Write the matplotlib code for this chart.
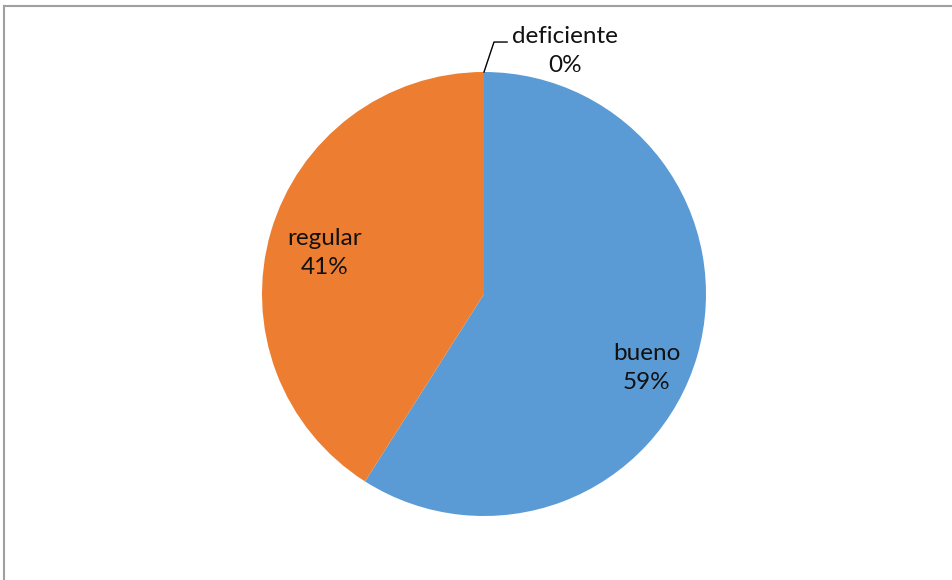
import matplotlib
matplotlib.use('Agg')
import matplotlib.pyplot as plt
from matplotlib.lines import Line2D

categories = ['bueno', 'regular', 'deficiente']
values = [59, 41, 0]
colors = ['#5B9BD5', '#ED7D31', '#A5A5A5']

plt.rcParams['font.family'] = ['Lato', 'DejaVu Sans']

fig = plt.figure(figsize=(9.53, 5.80), dpi=100)
W, H = 953., 580.
cx, cy, r = 484., 294., 222.
ax = fig.add_axes([(cx - r) / W, (H - cy - r) / H, 2 * r / W, 2 * r / H])

wedges, _ = ax.pie(values, colors=colors, startangle=90, counterclock=False,
                   radius=1, wedgeprops=dict(linewidth=0))
ax.set_xlim(-1, 1)
ax.set_ylim(-1, 1)
ax.set_aspect('equal')
ax.axis('off')

# labels
pcts = ['%d%%' % round(v * 100. / sum(values)) for v in values]
label_pos = [(0.734, -0.335), (-0.72, 0.185), (0.365, 1.095)]
for cat, p, (lx, ly) in zip(categories, pcts, label_pos):
    ax.text(lx, ly, cat + '\n' + p, ha='center', va='center', fontsize=17.5,
            color='#111111', linespacing=1.48, clip_on=False)

# leader line for the 0% slice
ax.plot([0, 0.045, 0.104], [1.0, 1.135, 1.135], color='k', lw=1, clip_on=False)

# chart frame (only top and left are visible)
fig.add_artist(Line2D([4 / W, 1], [1 - 6 / H, 1 - 6 / H], color='#A0A0A0', lw=1.5))
fig.add_artist(Line2D([4 / W, 4 / W], [0, 1 - 6 / H], color='#A0A0A0', lw=1.5))

fig.savefig('out.png', dpi=100)
